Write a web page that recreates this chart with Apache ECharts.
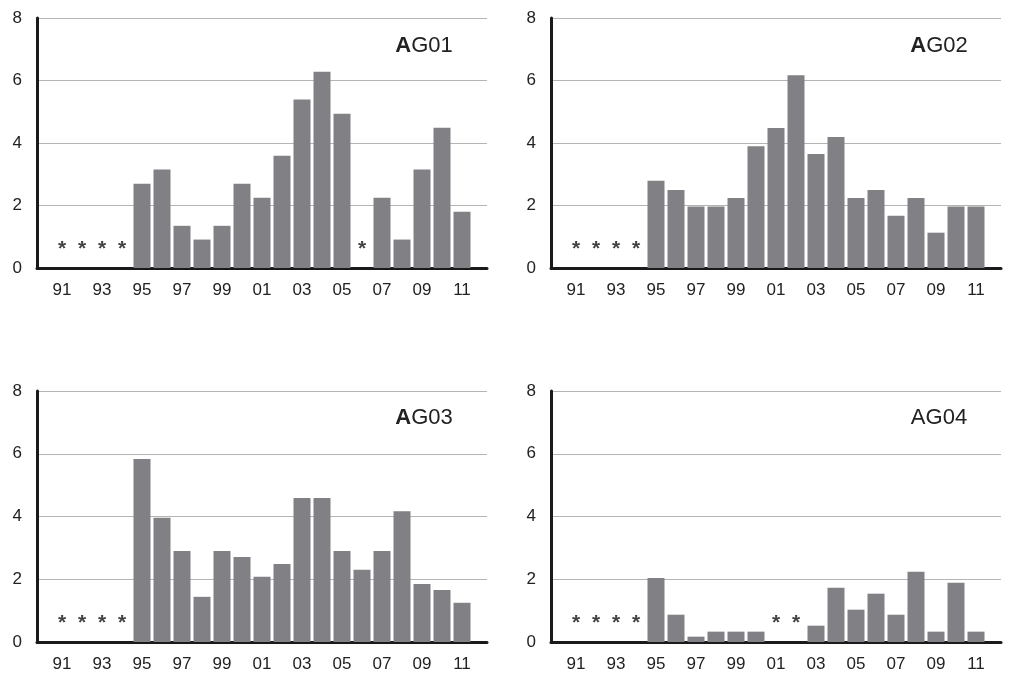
<!DOCTYPE html>
<html>
<head>
<meta charset="utf-8">
<script src="https://cdn.jsdelivr.net/npm/echarts@6/dist/echarts.min.js"></script>
<style>
html,body{margin:0;padding:0;background:#fff;}
#chart{width:1013px;height:675px;}
</style>
</head>
<body>
<div id="chart"></div>
<script>
const years = ['91','92','93','94','95','96','97','98','99','00','01','02','03','04','05','06','07','08','09','10','11'];
const yTicks = [0, 2, 4, 6, 8];
const titles = ['AG01', 'AG02', 'AG03', 'AG04'];
const boldFirst = [true, true, true, false];
const ag01 = [null,null,null,null,2.70,3.15,1.35,0.91,1.35,2.70,2.25,3.59,5.39,6.28,4.94,null,2.25,0.91,3.15,4.49,1.80];
const ag02 = [null,null,null,null,2.79,2.50,1.97,1.97,2.24,3.90,4.48,6.17,3.65,4.19,2.24,2.50,1.67,2.24,1.13,1.97,1.97];
const ag03 = [null,null,null,null,5.83,3.96,2.90,1.44,2.90,2.71,2.08,2.49,4.59,4.59,2.90,2.30,2.90,4.17,1.85,1.66,1.25];
const ag04 = [null,null,null,null,2.04,0.87,0.17,0.33,0.33,0.33,null,null,0.52,1.73,1.03,1.54,0.87,2.24,0.33,1.89,0.33];
const seriesData = [ag01, ag02, ag03, ag04];

const panels = [
  {outerLeft: 37, innerLeft: 52, top: 18, height: 250, titleX: 419, titleY: 30},
  {outerLeft: 551, innerLeft: 566, top: 18, height: 250, titleX: 934, titleY: 30},
  {outerLeft: 37, innerLeft: 52, top: 391, height: 251, titleX: 419, titleY: 402},
  {outerLeft: 551, innerLeft: 566, top: 391, height: 251, titleX: 934, titleY: 402}
];

const FONT = "'Liberation Sans', Arial, sans-serif";
const grid = [], xAxis = [], yAxis = [], series = [], title = [];
panels.forEach((p, i) => {
  const og = grid.length;
  grid.push({left: p.outerLeft, top: p.top, width: 450, height: p.height, containLabel: false});
  grid.push({left: p.innerLeft, top: p.top, width: 420, height: p.height, containLabel: false});
  xAxis.push({type: 'value', gridIndex: og, min: 0, max: 1, axisLabel: {show: false}, axisTick: {show: false},
    splitLine: {show: false}, axisLine: {show: true, onZero: false, lineStyle: {color: '#1a1a1a', width: 3}}});
  yAxis.push({type: 'value', gridIndex: og, min: yTicks[0], max: yTicks[yTicks.length - 1], interval: 2,
    axisLine: {show: true, lineStyle: {color: '#1a1a1a', width: 3}}, axisTick: {show: false},
    axisLabel: {color: '#222', fontSize: 17, fontFamily: FONT, margin: 15},
    splitLine: {show: true, lineStyle: {color: '#b4b4b4', width: 1}}});
  xAxis.push({type: 'category', gridIndex: og + 1, data: years, axisLine: {show: false}, axisTick: {show: false},
    axisLabel: {interval: 1, color: '#222', fontSize: 17, fontFamily: FONT, margin: 14}, splitLine: {show: false}});
  yAxis.push({type: 'value', gridIndex: og + 1, min: 0, max: 8, show: false, splitLine: {show: false}});
  series.push({type: 'bar', xAxisIndex: og + 1, yAxisIndex: og + 1, data: seriesData[i],
    barCategoryGap: '15%', itemStyle: {color: '#818185'}, silent: true, animation: false});
  const stars = [];
  seriesData[i].forEach((v, k) => { if (v === null) stars.push([years[k], 0.75]); });
  series.push({type: 'scatter', xAxisIndex: og + 1, yAxisIndex: og + 1, data: stars, symbolSize: 1,
    itemStyle: {color: 'rgba(0,0,0,0)'}, silent: true, animation: false,
    label: {show: true, position: 'inside', formatter: '*', color: '#111', fontSize: 21, fontWeight: 'bold', fontFamily: FONT, offset: [0, 5]}});
  const t = titles[i];
  title.push({text: boldFirst[i] ? '{b|' + t[0] + '}' + t.slice(1) : t, left: p.titleX, top: p.titleY, textAlign: 'center',
    textStyle: {fontSize: 22, fontWeight: 'normal', color: '#222', fontFamily: FONT,
      rich: {b: {fontSize: 22, fontWeight: 'bold', color: '#222', fontFamily: FONT}}}});
});

const chart = echarts.init(document.getElementById('chart'), null, {renderer: 'canvas'});
chart.setOption({backgroundColor: '#fff', animation: false, title, grid, xAxis, yAxis, series});
</script>
</body>
</html>
